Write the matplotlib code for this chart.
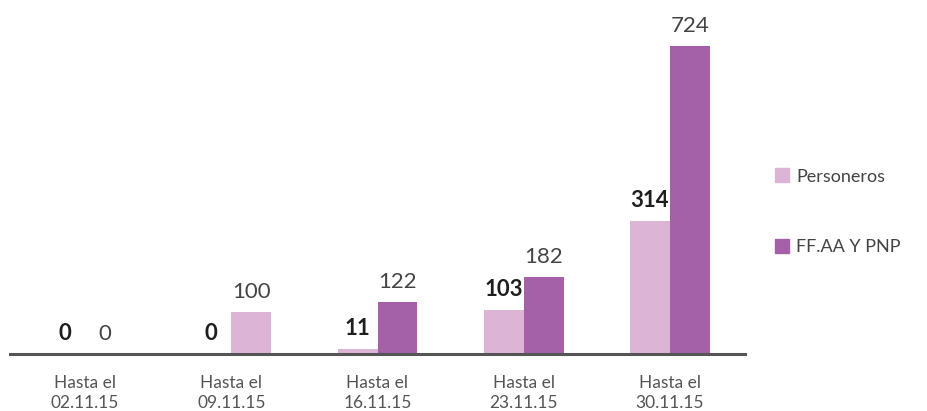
import matplotlib.pyplot as plt
from matplotlib.patches import Patch
import numpy as np

# data
fechas = ["Hasta el\n02.11.15", "Hasta el\n09.11.15", "Hasta el\n16.11.15",
          "Hasta el\n23.11.15", "Hasta el\n30.11.15"]
personeros = [0, 0, 11, 103, 314]
ffaa_pnp = [0, 100, 122, 182, 724]

light = "#dcb5d6"
dark = "#a461a8"
# the 09.11 bar is drawn in the light tone in the original graphic
ffaa_colors = [dark, light, dark, dark, dark]


def main():
    plt.rcParams["font.family"] = ["Lato", "DejaVu Sans"]
    fig = plt.figure(figsize=(9.27, 4.11), dpi=100)
    ax = fig.add_axes([10 / 927, 57 / 411, 735 / 927, 340 / 411])

    x = np.arange(len(fechas))
    w = 0.273
    ax.bar(x - w, personeros, width=w, align="edge", color=light)
    ax.bar(x, ffaa_pnp, width=w, align="edge", color=ffaa_colors)

    for xi, v in zip(x, personeros):
        ax.annotate(str(v), (xi - w / 2, v), xytext=(0, 10), textcoords="offset points",
                    ha="center", va="baseline", fontsize=16, fontweight="bold",
                    color="#1e1e1e")
    for xi, v in zip(x, ffaa_pnp):
        ax.annotate(str(v), (xi + w / 2, v), xytext=(0, 10), textcoords="offset points",
                    ha="center", va="baseline", fontsize=16, color="#444444")

    ax.set_xlim(-0.513, 4.513)
    ax.set_ylim(0, 800)
    ax.set_xticks(x)
    ax.set_xticklabels(fechas, fontsize=12.5, color="#555555", linespacing=1.3)
    ax.tick_params(axis="x", length=0, pad=15)
    ax.set_yticks([])
    for s in ["top", "right", "left"]:
        ax.spines[s].set_visible(False)
    ax.spines["bottom"].set_color("#555555")
    ax.spines["bottom"].set_linewidth(2.2)

    handles = [Patch(color=light, label="Personeros"),
               Patch(color=dark, label="FF.AA Y PNP")]
    fig.legend(handles=handles, loc="center left", bbox_to_anchor=(0.818, 0.485),
               frameon=False, fontsize=13, labelspacing=3.0, handlelength=0.8,
               handleheight=0.8, handletextpad=0.4, labelcolor="#444444")

    fig.savefig("out.png", dpi=100)


if __name__ == "__main__":
    main()
